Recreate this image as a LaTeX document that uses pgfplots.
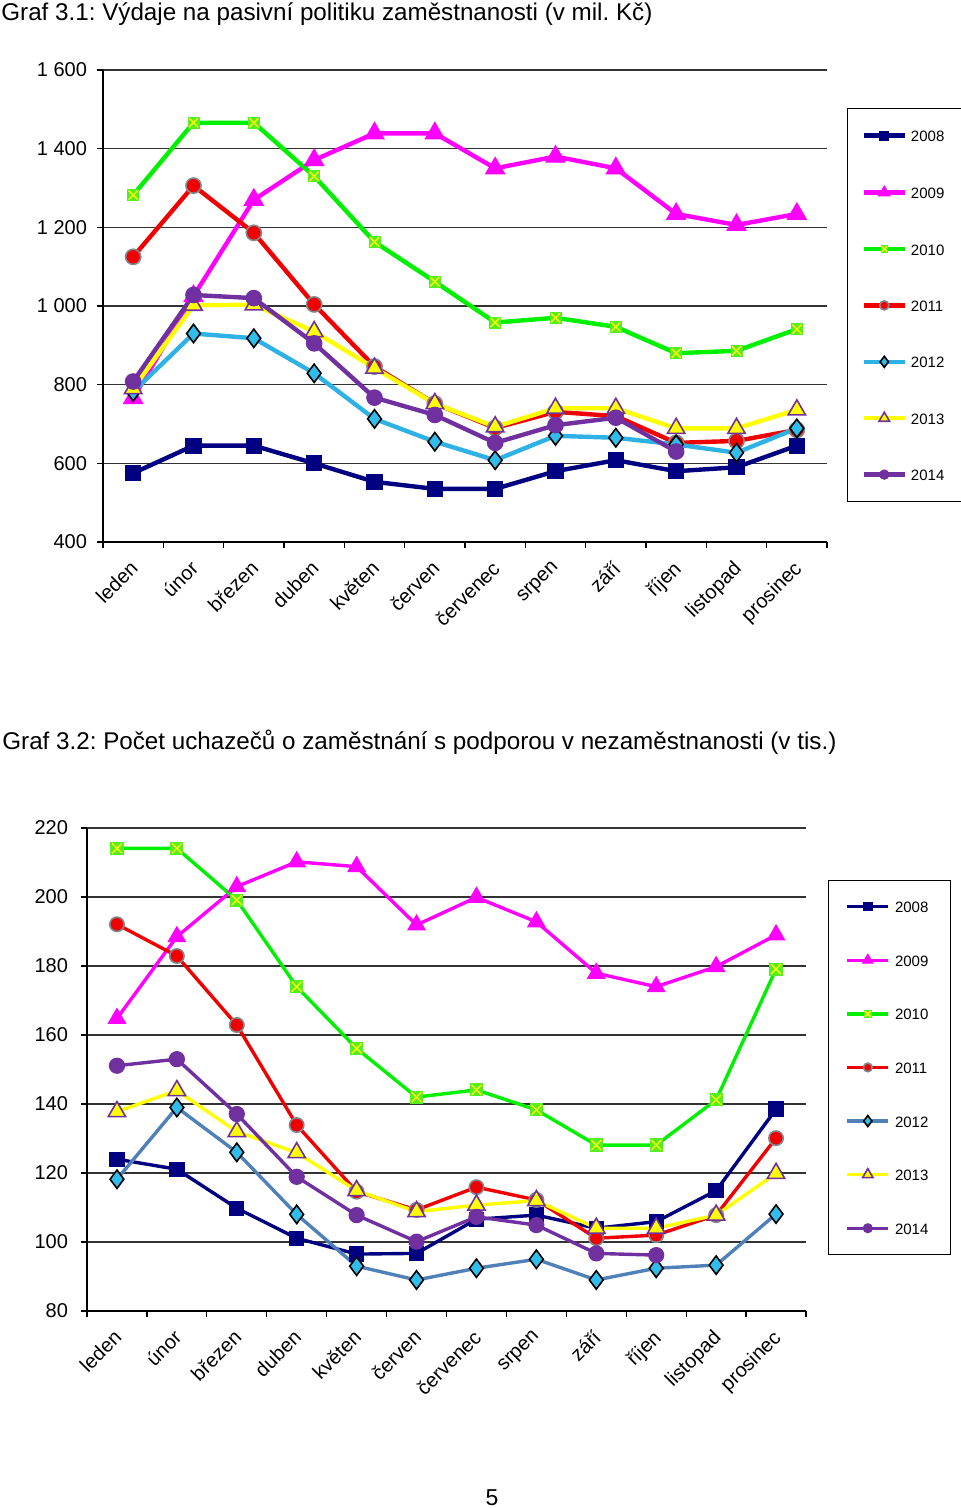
\documentclass[border=0pt]{standalone}
\usepackage{fontspec}
\setmainfont{Liberation Sans}
\usepackage{pgfplots}
\usepackage{pgfplotstable}
\pgfplotsset{compat=1.18}
\frenchspacing

\definecolor{cNavy}{HTML}{000080}
\definecolor{cMag}{HTML}{FF00FF}
\definecolor{cLime}{HTML}{00F000}
\definecolor{cLimeM}{HTML}{55EE22}
\definecolor{cRed}{HTML}{F00000}
\definecolor{cGreyO}{HTML}{808890}
\definecolor{cSky}{HTML}{2EB2E6}
\definecolor{cSkyM}{HTML}{30BDEB}
\definecolor{cSteel}{HTML}{5080B8}
\definecolor{cYel}{HTML}{FFFF00}
\definecolor{cPur}{HTML}{7030A0}

\pgfdeclareplotmark{sqx}{%
  \pgfsetfillcolor{cLimeM}%
  \pgfpathrectangle{\pgfqpoint{-\pgfplotmarksize}{-\pgfplotmarksize}}{\pgfqpoint{2\pgfplotmarksize}{2\pgfplotmarksize}}%
  \pgfusepathqfill
  \pgfsetstrokecolor{cYel}\pgfsetlinewidth{0.7pt}%
  \pgfpathmoveto{\pgfqpoint{-0.75\pgfplotmarksize}{-0.75\pgfplotmarksize}}%
  \pgfpathlineto{\pgfqpoint{0.75\pgfplotmarksize}{0.75\pgfplotmarksize}}%
  \pgfpathmoveto{\pgfqpoint{-0.75\pgfplotmarksize}{0.75\pgfplotmarksize}}%
  \pgfpathlineto{\pgfqpoint{0.75\pgfplotmarksize}{-0.75\pgfplotmarksize}}%
  \pgfusepathqstroke
}

\pgfplotstableread{
x  a2008 a2009 a2010 a2011 a2012 a2013 a2014
1  575   766   1282  1125  782   790   808
2  645   1025  1466  1306  930   1002  1028
3  645   1270  1466  1186  918   1003  1020
4  600   1371  1330  1004  829   935   905
5  553   1439  1163  846   713   842   767
6  535   1439  1062  752   655   752   723
7  535   1350  958   690   608   693   652
8  580   1380  970   731   670   740   697
9  608   1350  947   720   665   740   716
10 580   1234  880   652   648   689   630
11 590   1206  886   657   627   689   nan
12 645   1234  941   685   689   736   nan
}\dataA

\pgfplotstableread{
x  b2008 b2009 b2010 b2011 b2012 b2013 b2014
1  124.0 164.8 214.1 192.1 118.2 137.8 151.1
2  121.1 188.5 214.1 182.9 139.0 143.9 153.0
3  109.8 203.0 199.1 162.9 126.0 132.0 137.1
4  101.1 210.2 174.0 133.9 108.0 125.9 118.9
5  96.5  208.8 156.1 114.6 93.0  114.9 107.8
6  96.7  191.9 142.0 109.3 89.0  108.8 100.1
7  106.6 199.9 144.1 115.9 92.4  110.7 107.3
8  107.8 192.8 138.3 112.2 95.0  112.0 104.9
9  104.0 177.9 128.1 101.1 89.0  104.0 96.7
10 105.9 174.0 128.1 102.0 92.4  104.0 96.2
11 114.9 179.8 141.2 107.8 93.3  107.8 nan
12 138.5 189.0 179.1 130.1 108.1 119.9 nan
}\dataB

\pgfplotsset{
  monthaxis/.style={
    scale only axis, anchor=south west,
    xmin=0.5, xmax=12.5,
    xtick={0.5,1.5,...,12.5},
    x tick label as interval,
    xticklabels={leden,únor,březen,duben,květen,červen,červenec,srpen,září,říjen,listopad,prosinec},
    axis lines*=left,
    tick align=outside,
    major tick length=3pt,
    tick style={black, line width=0.6pt},
    axis line style={black, line width=0.6pt},
    ymajorgrids,
    grid style={black!80, line width=0.6pt},
    /pgf/number format/assume math mode=true,
    /pgf/number format/1000 sep={\ },
    xticklabel style={xshift=-2.2pt, yshift=-4.2pt, rotate=45, anchor=north east, inner sep=1pt},
    legend cell align=left,
    legend image code/.code={%
      \draw[mark repeat=2,mark phase=2,##1,every mark/.append style={scale=0.6}]
        plot coordinates {(0pt,0pt)(10.25pt,0pt)(20.5pt,0pt)};},
  },
}

\begin{document}
\begin{tikzpicture}
\useasboundingbox (0,0) rectangle (480pt,-754pt);

\node[anchor=base west, inner sep=0pt, font=\fontsize{12.1}{14}\selectfont] at (0.5pt,-10.5pt)
  {Graf 3.1: Výdaje na pasivní politiku zaměstnanosti (v mil. Kč)};
\node[anchor=base west, inner sep=0pt, font=\fontsize{12.1}{14}\selectfont] at (1pt,-374.5pt)
  {Graf 3.2: Počet uchazečů o zaměstnání s podporou v nezaměstnanosti (v tis.)};
\node[anchor=base, inner sep=0pt, font=\fontsize{11.5}{13}\selectfont] at (246pt,-752.5pt) {5};

% ---------- Chart 1 ----------
\begin{axis}[monthaxis,
  at={(51.5pt,-271pt)}, width=362pt, height=236pt,
  ymin=400, ymax=1600, ytick={400,600,...,1600},
  yticklabel style={font=\fontsize{10}{11}\selectfont, xshift=-1.5pt},
  xticklabel style={font=\fontsize{10}{11}\selectfont},
  legend style={at={(axis description cs:1.0276,0.9195)}, anchor=north west,
    draw=black, line width=0.6pt, inner xsep=7pt, inner ysep=10.5pt, row sep=22.2pt,
    font=\fontsize{7.5}{9}\selectfont,
    nodes={inner ysep=0pt, inner xsep=2pt, text height=6pt, text depth=0pt}},
]
\addplot[cNavy, line width=2.2pt, mark=square*, mark size=3.8pt, mark options={fill=cNavy, draw=cNavy, line width=0.5pt}] table[x=x,y=a2008] {\dataA};
\addlegendentry{2008}
\addplot[cMag, line width=2.2pt, mark=triangle*, mark size=5.5pt, mark options={fill=cMag, draw=cMag, line width=0.5pt}] table[x=x,y=a2009] {\dataA};
\addlegendentry{2009}
\addplot[cLime, line width=2.2pt, mark=sqx, mark size=3pt, mark options={line width=0.5pt}] table[x=x,y=a2010] {\dataA};
\addlegendentry{2010}
\addplot[cRed, line width=2.2pt, mark=*, mark size=3.8pt, mark options={fill=cRed, draw=cGreyO, line width=0.8pt}] table[x=x,y=a2011] {\dataA};
\addlegendentry{2011}
\addplot[cSky, line width=2.2pt, mark=diamond*, mark size=4.6pt, mark options={fill=cSkyM, draw=black, line width=0.8pt}] table[x=x,y=a2012] {\dataA};
\addlegendentry{2012}
\addplot[cYel, line width=2.2pt, mark=triangle*, mark size=5pt, mark options={fill=cYel, draw=cPur, line width=0.8pt}] table[x=x,y=a2013] {\dataA};
\addlegendentry{2013}
\addplot[cPur, line width=2.2pt, mark=*, mark size=3.9pt, mark options={fill=cPur, draw=cPur, line width=0.5pt}] table[x=x,y=a2014] {\dataA};
\addlegendentry{2014}
\end{axis}

% ---------- Chart 2 ----------
\begin{axis}[monthaxis,
  at={(43.5pt,-655.5pt)}, width=359.5pt, height=241.5pt,
  ymin=80, ymax=220, ytick={80,100,...,220},
  yticklabel style={font=\fontsize{10}{11}\selectfont, xshift=-3pt},
  xticklabel style={font=\fontsize{10}{11}\selectfont},
  legend style={at={(axis description cs:1.0306,0.8923)}, anchor=north west,
    draw=black, line width=0.6pt, inner xsep=8.5pt, inner ysep=10pt, row sep=20.8pt,
    font=\fontsize{7.5}{9}\selectfont,
    nodes={inner ysep=0pt, inner xsep=2.5pt, text height=6pt, text depth=0pt}},
]
\addplot[cNavy, line width=1.7pt, mark=square*, mark size=3.6pt, mark options={fill=cNavy, draw=cNavy, line width=0.5pt}] table[x=x,y=b2008] {\dataB};
\addlegendentry{2008}
\addplot[cMag, line width=1.7pt, mark=triangle*, mark size=5pt, mark options={fill=cMag, draw=cMag, line width=0.5pt}] table[x=x,y=b2009] {\dataB};
\addlegendentry{2009}
\addplot[cLime, line width=1.7pt, mark=sqx, mark size=3.3pt, mark options={line width=0.5pt}] table[x=x,y=b2010] {\dataB};
\addlegendentry{2010}
\addplot[cRed, line width=1.7pt, mark=*, mark size=3.6pt, mark options={fill=cRed, draw=cGreyO, line width=0.8pt}] table[x=x,y=b2011] {\dataB};
\addlegendentry{2011}
\addplot[cSteel, line width=1.7pt, mark=diamond*, mark size=4.6pt, mark options={fill=cSkyM, draw=black, line width=0.8pt}] table[x=x,y=b2012] {\dataB};
\addlegendentry{2012}
\addplot[cYel, line width=1.7pt, mark=triangle*, mark size=5pt, mark options={fill=cYel, draw=cPur, line width=0.8pt}] table[x=x,y=b2013] {\dataB};
\addlegendentry{2013}
\addplot[cPur, line width=1.7pt, mark=*, mark size=3.8pt, mark options={fill=cPur, draw=cPur, line width=0.5pt}] table[x=x,y=b2014] {\dataB};
\addlegendentry{2014}
\end{axis}
\end{tikzpicture}
\end{document}
